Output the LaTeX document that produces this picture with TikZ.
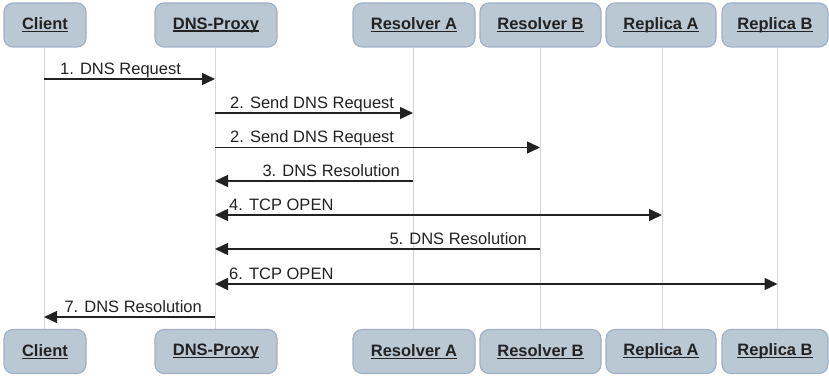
\documentclass[tikz,border=0pt]{standalone}
\usepackage{fontspec}
\setmainfont{Liberation Sans}
\usetikzlibrary{arrows.meta}
\definecolor{boxfill}{HTML}{BAC8D3}
\definecolor{boxline}{HTML}{9DB0C8}
\definecolor{lifeline}{HTML}{D4D4D4}
\definecolor{txt}{HTML}{222222}
\newcommand\myul[1]{\setbox0=\hbox{#1}\rlap{\rule[-2.6pt]{\wd0}{1.2pt}}\box0}
\begin{document}
\begin{tikzpicture}[x=1pt,y=-1pt,
  actor/.style={draw=boxline,fill=boxfill,line width=1.1pt,rounded corners=9pt,
    minimum height=44pt,inner sep=0pt,text=txt,
    font=\fontsize{16.5}{19}\selectfont\bfseries},
  life/.style={draw=lifeline,line width=1pt},
  msg/.style={draw=txt,line width=1.4pt,-{Triangle[length=13pt,width=12pt]}},
  msgb/.style={draw=txt,line width=1.4pt,{Triangle[length=13pt,width=12pt]}-{Triangle[length=13pt,width=12pt]}},
  lbl/.style={inner sep=0pt,text=txt,font=\fontsize{16.5}{19}\selectfont}
]
\useasboundingbox (0,0) rectangle (829,379);
% top actors
\node[actor,minimum width=82pt]  (t1) at (45,25)   {\myul{Client}};
\node[actor,minimum width=122pt] (t2) at (216,25)  {\myul{DNS-Proxy}};
\node[actor,minimum width=122pt] (t3) at (414,25)  {\myul{Resolver A}};
\node[actor,minimum width=121pt] (t4) at (540.5,25) {\myul{Resolver B}};
\node[actor,minimum width=110pt] (t5) at (661,25)  {\myul{Replica A}};
\node[actor,minimum width=106pt] (t6) at (775,25)  {\myul{Replica B}};
% bottom actors
\node[actor,minimum width=82pt]  (b1) at (45,351.5)   {\myul{Client}};
\node[actor,minimum width=122pt] (b2) at (216,351.5)  {\myul{DNS-Proxy}};
\node[actor,minimum width=122pt] (b3) at (414,351.5)  {\myul{Resolver A}};
\node[actor,minimum width=121pt] (b4) at (540.5,351.5) {\myul{Resolver B}};
\node[actor,minimum width=110pt] (b5) at (661,351.5)  {\myul{Replica A}};
\node[actor,minimum width=106pt] (b6) at (775,351.5)  {\myul{Replica B}};
% lifeline coordinates
\coordinate (l1) at (44,0);
\coordinate (l2) at (215,0);
\coordinate (l3) at (413,0);
\coordinate (l4) at (540,0);
\coordinate (l5) at (662,0);
\coordinate (l6) at (777.5,0);
\foreach \i in {1,...,6} {
  \draw[life] (l\i |- t\i.south) -- (l\i |- b\i.north);
}
% messages
\draw[msg] (l1 |- 0,79) -- (l2 |- 0,79);
\node[lbl,anchor=base west] (m1) at (60,74.5) {1. DNS Request};
\draw[msg] (l2 |- 0,113) -- (l3 |- 0,113);
\node[lbl,anchor=base west] (m2) at (230,108.5) {2. Send DNS Request};
\draw[msg] (l2 |- 0,147.5) -- (l4 |- 0,147.5);
\node[lbl,anchor=base west] (m2b) at (230,143) {2. Send DNS Request};
\draw[msg] (l3 |- 0,181) -- (l2 |- 0,181);
\node[lbl,anchor=base east] (m3) at (400,176.5) {3. DNS Resolution};
\draw[msgb] (l2 |- 0,215) -- (l5 |- 0,215);
\node[lbl,anchor=base west] (m4) at (229,210.5) {4. TCP OPEN};
\draw[msg] (l4 |- 0,249) -- (l2 |- 0,249);
\node[lbl,anchor=base east] (m5) at (527,244.5) {5. DNS Resolution};
\draw[msgb] (l2 |- 0,284) -- (l6 |- 0,284);
\node[lbl,anchor=base west] (m6) at (229,279.5) {6. TCP OPEN};
\draw[msg] (l2 |- 0,317) -- (l1 |- 0,317);
\node[lbl,anchor=base east] (m7) at (202,312.5) {7. DNS Resolution};
\end{tikzpicture}
\end{document}
